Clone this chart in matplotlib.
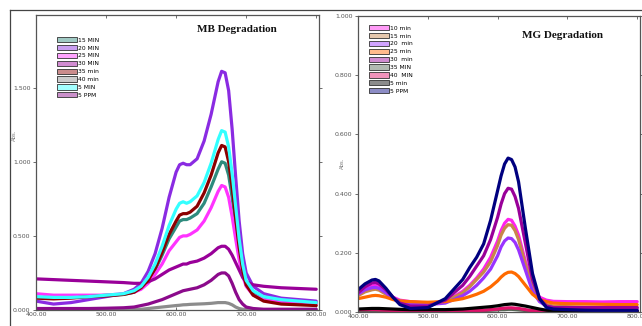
import matplotlib
matplotlib.use("Agg")
import matplotlib.pyplot as plt
from matplotlib.patches import Patch
from matplotlib.colors import to_rgba
from matplotlib.lines import Line2D

# ---------------- MB data ----------------
mb_wl = [400, 425, 450, 475, 500, 525, 540, 550, 560, 570, 580, 590, 600, 605, 610, 615, 620,
         630, 640, 650, 660, 665, 670, 675, 680, 685, 690, 695, 700, 710, 725, 750, 775, 800]
mb_labels = ["15 MIN", "20 MIN", "25 MIN", "30 MIN", "35 min", "40 min", "5 MIN", "5 PPM"]
mb_colors = ["#2e8b7d", "#8a2be2", "#ff33ff", "#990099", "#8b0000", "#8c8c8c", "#33ffff", "#8b0a8b"]
mb_15 = [.085, .08, .085, .09, .10, .105, .12, .15, .20, .27, .37, .48, .56, .60, .61, .61, .62,
         .65, .72, .83, .95, 1.00, .99, .91, .76, .58, .40, .26, .17, .11, .08, .06, .055, .05]
mb_20 = [.06, .04, .05, .07, .09, .11, .14, .18, .26, .38, .55, .76, .93, .98, .99, .98, .98,
         1.02, 1.14, 1.32, 1.54, 1.61, 1.60, 1.48, 1.22, .90, .60, .38, .25, .16, .11, .08, .07, .06]
mb_25 = [.11, .10, .10, .10, .10, .11, .12, .14, .18, .24, .31, .40, .46, .49, .50, .50, .51,
         .54, .60, .69, .80, .84, .83, .76, .63, .48, .34, .23, .16, .10, .07, .05, .045, .04]
mb_30 = [.21, .205, .20, .195, .19, .185, .18, .18, .19, .21, .24, .27, .29, .30, .31, .31, .32,
         .33, .35, .38, .42, .43, .43, .41, .37, .32, .27, .22, .19, .17, .16, .15, .145, .14]
mb_35 = [.08, .075, .08, .09, .095, .105, .12, .15, .20, .28, .39, .51, .60, .64, .65, .65, .66,
         .70, .79, .91, 1.06, 1.11, 1.10, 1.00, .83, .62, .42, .27, .17, .10, .06, .04, .035, .03]
mb_40 = [.003, .003, .003, .003, .003, .004, .004, .005, .01, .015, .02, .025, .03, .032, .035, .036, .038,
         .04, .042, .045, .05, .05, .05, .045, .035, .02, .01, .005, .003, .003, .003, .003, .003, .003]
mb_5min = [.09, .085, .085, .09, .10, .11, .13, .16, .22, .31, .43, .57, .68, .72, .73, .72, .73,
           .77, .86, .99, 1.15, 1.21, 1.20, 1.10, .92, .70, .48, .31, .20, .13, .09, .07, .06, .05]
mb_5ppm = [.01, .01, .01, .01, .012, .015, .02, .03, .04, .055, .07, .09, .11, .12, .13, .135, .14,
           .15, .17, .20, .24, .25, .25, .23, .18, .12, .07, .04, .02, .01, .005, .005, .005, .005]
mb_series = [mb_15, mb_20, mb_25, mb_30, mb_35, mb_40, mb_5min, mb_5ppm]

# ---------------- MG data ----------------
mg_wl = [400, 410, 420, 425, 430, 440, 450, 460, 475, 500, 525, 550, 560, 570, 580, 590, 600, 605,
         610, 615, 620, 625, 630, 640, 650, 660, 670, 680, 700, 725, 750, 775, 800]
mg_labels = ["10 min", "15 min", "20  min", "25 min", "30  min", "35 MIN", "40  MIN", "5 min", "5 PPM"]
mg_colors = ["#ff22ee", "#c8864a", "#9933ff", "#ff6a00", "#990099", "#556655", "#e0106a", "#000000", "#00007f"]
mg_10 = [.06, .075, .088, .09, .087, .07, .05, .04, .035, .03, .035, .07, .09, .115, .145, .185, .24, .275,
         .30, .313, .31, .29, .26, .17, .09, .05, .04, .036, .035, .035, .034, .035, .035]
mg_15 = [.055, .068, .075, .077, .074, .06, .045, .037, .033, .03, .035, .065, .085, .11, .135, .17, .225, .26,
         .283, .295, .293, .275, .245, .16, .08, .04, .025, .02, .018, .016, .015, .015, .015]
mg_20 = [.06, .075, .082, .083, .08, .065, .045, .035, .028, .025, .03, .055, .07, .09, .115, .145, .19, .22,
         .24, .25, .248, .235, .21, .14, .07, .035, .02, .015, .012, .01, .01, .01, .01]
mg_25 = [.045, .05, .055, .056, .055, .05, .042, .037, .035, .033, .035, .045, .052, .06, .07, .085, .105, .118,
         .128, .134, .135, .13, .12, .09, .06, .042, .035, .03, .028, .027, .026, .025, .025]
mg_30 = [.065, .085, .098, .10, .095, .075, .05, .03, .02, .02, .04, .09, .12, .155, .19, .245, .32, .365,
         .40, .418, .415, .39, .35, .23, .11, .045, .02, .015, .015, .015, .015, .015, .015]
mg_35 = [.003, .003, .003, .003, .003, .003, .003, .003, .003, .003, .003, .003, .003, .004, .005, .006, .007, .008,
         .008, .009, .009, .008, .007, .005, .004, .003, .003, .003, .003, .003, .003, .003, .003]
mg_40 = [.008, .008, .008, .008, .007, .006, .005, .004, .004, .004, .004, .004, .005, .005, .006, .008, .01, .012,
         .013, .014, .014, .013, .012, .008, .004, .002, .002, .002, .002, .002, .002, .002, .002]
mg_5min = [.01, .011, .012, .012, .012, .011, .01, .009, .008, .008, .008, .01, .012, .014, .016, .018, .021, .023,
           .025, .026, .027, .026, .024, .02, .015, .01, .006, .004, .003, .003, .003, .003, .003]
mg_5ppm = [.075, .095, .108, .11, .105, .08, .05, .025, .012, .015, .045, .11, .15, .185, .23, .31, .41, .46,
           .50, .52, .515, .49, .44, .28, .13, .045, .015, .01, .008, .006, .005, .005, .005]
mg_series = [mg_10, mg_15, mg_20, mg_25, mg_30, mg_35, mg_40, mg_5min, mg_5ppm]

W, H = 642, 326
fig = plt.figure(figsize=(W / 100, H / 100), dpi=100)
fig.patch.set_facecolor("white")


def fbox(x0, y0, x1, y1):
    return [x0 / W, 1 - y1 / H, (x1 - x0) / W, (y1 - y0) / H]


def style_axes(ax, xl, yl, yticks, ylabels):
    ax.set_xlim(*xl)
    ax.set_ylim(*yl)
    ax.set_xticks([400, 500, 600, 700, 800])
    ax.set_xticklabels(["400.00", "500.00", "600.00", "700.00", "800.00"])
    ax.set_yticks(yticks)
    ax.set_yticklabels(ylabels)
    for s in ax.spines.values():
        s.set_color("#555555")
        s.set_linewidth(0.9)
    ax.tick_params(axis="both", labelsize=4.5, labelcolor="#555555", color="#555555",
                   length=2.5, width=0.6, pad=1.5, top=True, right=True, direction="in")
    ax.tick_params(axis="y", which="both", left=True, direction="out")
    ax.set_facecolor("white")


def add_legend(ax, labels, colors, x, y):
    handles = [Patch(facecolor=to_rgba(c, 0.45), edgecolor="#333333", linewidth=0.6) for c in colors]
    ax.legend(handles, labels, loc="upper left", bbox_to_anchor=(x / W, 1 - y / H),
              bbox_transform=fig.transFigure, frameon=False, fontsize=4.3,
              handlelength=3.4, handleheight=0.95, handletextpad=0.15, labelspacing=0.38,
              borderpad=0, borderaxespad=0)


# Left: MB
ax1 = fig.add_axes(fbox(36, 15, 319, 310))
for vals, c, lab in zip(mb_series, mb_colors, mb_labels):
    ax1.plot(mb_wl, vals, color=c, lw=2.3, solid_joinstyle="round", solid_capstyle="round")
style_axes(ax1, (400, 804), (0, 1.99), [0, 0.5, 1.0, 1.5], ["0.000", "0.500", "1.000", "1.500"])
ax1.text(237 / W, 1 - 29 / H, "MB Degradation", transform=fig.transFigure, ha="center", va="center",
         fontsize=8, fontweight="bold", family="Liberation Serif", color="#111111")
fig.text(14 / W, 1 - 135 / H, "Abs.", rotation=90, fontsize=3.8, color="#777777", ha="center", va="center")
add_legend(ax1, mb_labels, mb_colors, 57, 37)

# Right: MG
ax2 = fig.add_axes(fbox(358, 16, 640, 312))
for vals, c, lab in zip(mg_series, mg_colors, mg_labels):
    ax2.plot(mg_wl, vals, color=c, lw=2.3, solid_joinstyle="round", solid_capstyle="round")
style_axes(ax2, (400, 804), (0, 1.0), [0, 0.2, 0.4, 0.6, 0.8, 1.0],
           ["0.000", "0.200", "0.400", "0.600", "0.800", "1.000"])
ax2.text(563 / W, 1 - 35 / H, "MG Degradation", transform=fig.transFigure, ha="center", va="center",
         fontsize=8, fontweight="bold", family="Liberation Serif", color="#111111")
fig.text(342 / W, 1 - 163 / H, "Abs.", rotation=90, fontsize=3.8, color="#777777", ha="center", va="center")
add_legend(ax2, mg_labels, mg_colors, 369, 25)

# outer screenshot frame lines
fig.add_artist(Line2D([10 / W, 1.0], [1 - 10 / H, 1 - 10 / H], transform=fig.transFigure,
                      color="#444444", lw=0.9))
fig.add_artist(Line2D([10 / W, 10 / W], [1 - 10 / H, 0.0], transform=fig.transFigure,
                      color="#444444", lw=0.9))

fig.savefig("out.png", dpi=100, facecolor="white")
